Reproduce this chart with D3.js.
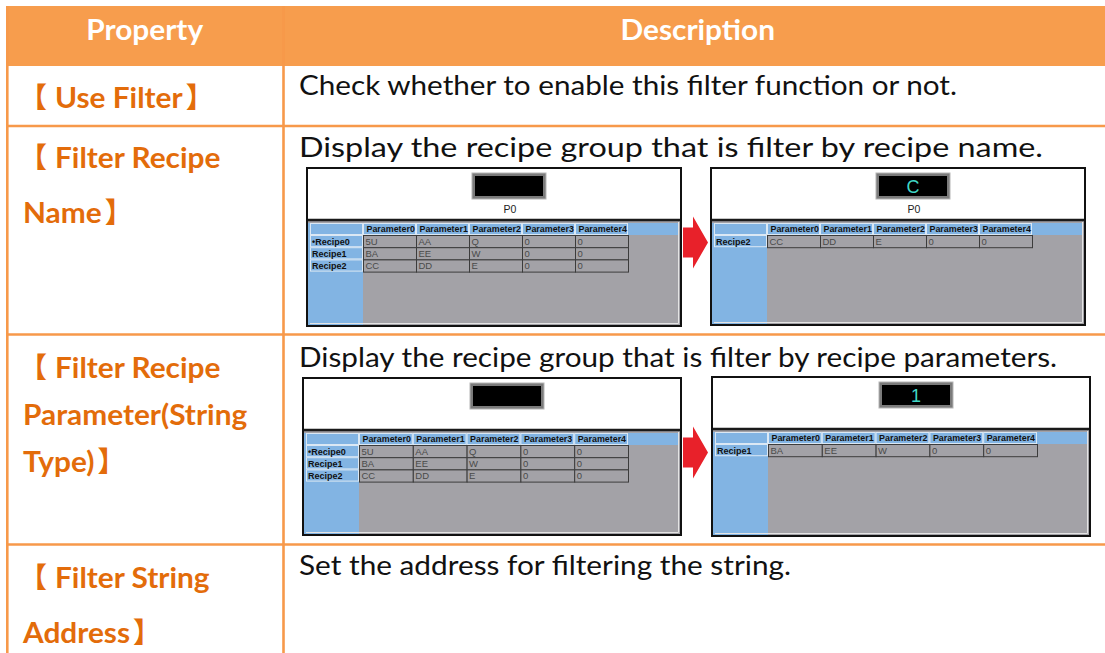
<!DOCTYPE html>
<html><head><meta charset="utf-8">
<script src="https://cdn.jsdelivr.net/npm/d3@7"></script>
<style>html,body{margin:0;padding:0;background:#fff;overflow:hidden}</style>
</head><body>
<svg id="c" width="1105" height="653"></svg>
<script>
// ---------- data ----------
const headers = ["Property", "Description"];
const propertyLines = [
  ["【Use Filter】"],
  ["【Filter Recipe", "Name】"],
  ["【Filter Recipe", "Parameter(String", "Type)】"],
  ["【Filter String", "Address】"]
];
const descriptions = [
  "Check whether to enable this filter function or not.",
  "Display the recipe group that is filter by recipe name.",
  "Display the recipe group that is filter by recipe parameters.",
  "Set the address for filtering the string."
];
const paramNames = ["Parameter0", "Parameter1", "Parameter2", "Parameter3", "Parameter4"];
const recipeNames = ["Recipe0", "Recipe1", "Recipe2"];
const recipe0Values = ["5U", "AA", "Q", "0", "0"];
const recipe1Values = ["BA", "EE", "W", "0", "0"];
const recipe2Values = ["CC", "DD", "E", "0", "0"];
const recipeValues = [recipe0Values, recipe1Values, recipe2Values];
// four screenshots: before/after name filter, before/after parameter filter
const shotRecipes = [[0, 1, 2], [2], [0, 1, 2], [1]];
const shotMarked = [0, -1, 0, -1];
const shotDisplay = ["", "C", "", "1"];
const shotLabel = ["P0", "P0", "", ""];

// ---------- layout ----------
const W = 1105, H = 653;
const ORANGE_FILL = "#F79D4D", ORANGE_LINE = "#F7994A", ORANGE_TEXT = "#E36C0A";
const LATIN_BOLD = "Lato, 'Noto Sans', sans-serif";
const CJK = "'Noto Sans CJK SC', 'Noto Sans CJK JP', sans-serif";
const WIDEN = 1.065;
const colEdges = [6, 283.5, 1112];
const rowEdges = [6, 66, 126, 334.5, 544.5, 760];
const descBaseline = [95, 157, 367, 575];
const descWidth = [658, 744, 758, 492];
const propFirstBaseline = [108, 168, 378, 588];
const propGap = [55, 55, 47, 55];
const shotLayout = [
  {x: 307, y: 168, w: 374, h: 158},
  {x: 711, y: 168, w: 374, h: 157},
  {x: 303, y: 378, w: 378, h: 157},
  {x: 712, y: 377, w: 378, h: 159}
];
const arrowLayout = [{x: 683, cy: 242.5}, {x: 683, cy: 452.5}];

const svg = d3.select("#c");
svg.append("rect").attr("width", W).attr("height", H).attr("fill", "#fff");

const xCol = d3.scaleOrdinal().domain(headers).range([colEdges[0], colEdges[1]]);
const colW = h => (h === headers[0] ? colEdges[1] - colEdges[0] : colEdges[2] - colEdges[1]);

function widen(sel) {
  sel.each(function () {
    const n = this.getComputedTextLength();
    d3.select(this).attr("textLength", n * WIDEN).attr("lengthAdjust", "spacingAndGlyphs");
  });
  return sel;
}

// header band
svg.append("rect").attr("x", colEdges[0]).attr("y", rowEdges[0])
  .attr("width", W - colEdges[0]).attr("height", rowEdges[1] - rowEdges[0]).attr("fill", ORANGE_FILL);
svg.selectAll("text.hdr").data(headers).join("text").attr("class", "hdr")
  .attr("x", d => xCol(d) + colW(d) / 2).attr("y", 40)
  .attr("text-anchor", "middle").attr("fill", "#fff")
  .attr("font-family", LATIN_BOLD).attr("font-weight", 700)
  .attr("font-size", 28).text(d => d).call(widen);

// grid lines
const lineG = svg.append("g").attr("stroke", ORANGE_LINE).attr("stroke-width", 2.6);
lineG.append("line").attr("x1", 7.3).attr("x2", 7.3).attr("y1", rowEdges[0]).attr("y2", H);
lineG.append("line").attr("x1", colEdges[1]).attr("x2", colEdges[1]).attr("y1", rowEdges[0]).attr("y2", H);
lineG.selectAll("line.h").data(rowEdges.slice(2, 5)).join("line").attr("class", "h")
  .attr("x1", colEdges[0]).attr("x2", W).attr("y1", d => d).attr("y2", d => d);

// property texts (CJK brackets + widened bold Latin)
const propG = svg.append("g").attr("fill", ORANGE_TEXT).attr("font-weight", 700);
propertyLines.forEach((lines, r) => {
  lines.forEach((line, i) => {
    const y = propFirstBaseline[r] + i * propGap[r];
    let s = line, x = 23;
    const open = s.startsWith("【"), close = s.endsWith("】");
    if (open) { s = s.slice(1); }
    if (close) { s = s.slice(0, -1); }
    if (open) {
      propG.append("text").attr("x", 19).attr("y", y).attr("font-family", CJK)
        .attr("font-size", 28).text("【");
      x = 55;
    }
    const t = propG.append("text").attr("x", x).attr("y", y).attr("font-family", LATIN_BOLD)
      .attr("font-size", 28).text(s);
    widen(t);
    const realEnd = x + (+t.attr("textLength"));
    if (close) {
      propG.append("text").attr("x", realEnd + 3).attr("y", y).attr("font-family", CJK)
        .attr("font-size", 28).text("】");
    }
  });
});

// descriptions
svg.selectAll("text.desc").data(descriptions).join("text").attr("class", "desc")
  .attr("x", 299).attr("y", (d, i) => descBaseline[i])
  .attr("fill", "#111").attr("font-family", "Lato, 'Noto Sans', sans-serif")
  .attr("font-size", 26).attr("textLength", (d, i) => descWidth[i])
  .attr("lengthAdjust", "spacingAndGlyphs").text(d => d);

// screenshots
const GRAY = "#A3A2A7", BLUE = "#82B4E3";
function drawShot(k) {
  const L = shotLayout[k];
  const w = L.w, h = L.h;
  const g = svg.append("g").attr("transform", `translate(${L.x},${L.y})`)
    .attr("font-family", "'Liberation Sans', Arial, sans-serif");
  const cw = (w - 109) / 5;
  g.append("rect").attr("width", w).attr("height", h).attr("fill", "#fff");
  g.append("rect").attr("x", 0).attr("y", 52).attr("width", w).attr("height", h - 52).attr("fill", GRAY);
  g.append("rect").attr("x", 0).attr("y", 55).attr("width", 56).attr("height", h - 55).attr("fill", BLUE);
  g.append("rect").attr("x", 0).attr("y", 55).attr("width", w - 3).attr("height", 12).attr("fill", BLUE);
  g.append("path").attr("d", `M3,${h - 2.5} H${w - 2.5} V54`).attr("fill", "none")
    .attr("stroke", "#e4e4e4").attr("stroke-width", 1);
  // display box
  const bx = 165 + (w - 374) / 2;
  g.append("rect").attr("x", bx).attr("y", 5).attr("width", 74).attr("height", 26)
    .attr("fill", "#7b7b7b").attr("stroke", "#b5b5b5").attr("stroke-width", 1);
  g.append("rect").attr("x", bx + 3).attr("y", 8).attr("width", 68).attr("height", 20).attr("fill", "#000");
  g.append("text").attr("x", bx + 37).attr("y", 25).attr("text-anchor", "middle")
    .attr("fill", "#40D8C6").attr("font-size", 18).text(shotDisplay[k]);
  g.append("text").attr("x", bx + 38).attr("y", 45).attr("text-anchor", "middle")
    .attr("fill", "#222").attr("font-size", 10.5).text(shotLabel[k]);

  const xs = d3.scaleBand().domain(paramNames).range([56, 56 + 5 * cw]);
  const rows = shotRecipes[k];
  const ys = d3.scaleBand().domain(rows).range([67, 67 + 12.2 * rows.length]);

  g.selectAll("rect.ph").data(paramNames).join("rect").attr("class", "ph")
    .attr("x", d => xs(d) + 0.5).attr("y", 55.5).attr("width", xs.bandwidth() - 1).attr("height", 11)
    .attr("fill", BLUE).attr("stroke", "#dbe8f4").attr("stroke-width", 1);
  g.append("rect").attr("x", 3.5).attr("y", 55.5).attr("width", 52).attr("height", 11)
    .attr("fill", BLUE).attr("stroke", "#dbe8f4").attr("stroke-width", 1);
  g.selectAll("text.ph").data(paramNames).join("text").attr("class", "ph")
    .attr("x", d => xs(d) + 3.5).attr("y", 64.3).attr("font-size", 8.9).attr("font-weight", 700)
    .attr("fill", "#111").text(d => d);

  g.selectAll("rect.rl").data(rows).join("rect").attr("class", "rl")
    .attr("x", 3.5).attr("y", d => ys(d) + 0.5).attr("width", 52).attr("height", ys.bandwidth() - 1)
    .attr("fill", BLUE).attr("stroke", "#dbe8f4").attr("stroke-width", 1);
  g.selectAll("text.rl").data(rows).join("text").attr("class", "rl")
    .attr("x", 5).attr("y", d => ys(d) + 9.6).attr("font-size", 9).attr("font-weight", 700)
    .attr("fill", "#111").text(d => (d === shotMarked[k] ? "•" : "") + recipeNames[d]);

  const cells = [];
  rows.forEach(r => paramNames.forEach((p, j) => cells.push({r, p, v: recipeValues[r][j]})));
  g.selectAll("rect.dc").data(cells).join("rect").attr("class", "dc")
    .attr("x", d => xs(d.p) + 0.5).attr("y", d => ys(d.r) + 0.5)
    .attr("width", xs.bandwidth()).attr("height", ys.bandwidth())
    .attr("fill", GRAY).attr("stroke", "#3c3c3c").attr("stroke-width", 1);
  g.selectAll("text.dc").data(cells).join("text").attr("class", "dc")
    .attr("x", d => xs(d.p) + 2.5).attr("y", d => ys(d.r) + 10)
    .attr("font-size", 9.5).attr("fill", "#4a4a4a").text(d => d.v);

  g.append("line").attr("x1", 0).attr("x2", w).attr("y1", 52).attr("y2", 52)
    .attr("stroke", "#1a1a1a").attr("stroke-width", 2.5);
  g.append("rect").attr("x", 0).attr("y", 0).attr("width", w).attr("height", h)
    .attr("fill", "none").attr("stroke", "#111").attr("stroke-width", 2);
}
shotLayout.forEach((L, k) => drawShot(k));

// red arrows
svg.selectAll("path.arrow").data(arrowLayout).join("path").attr("class", "arrow")
  .attr("d", a => d3.line()([[a.x, a.cy - 15], [a.x + 10, a.cy - 15], [a.x + 10, a.cy - 26],
    [a.x + 25, a.cy], [a.x + 10, a.cy + 26], [a.x + 10, a.cy + 15], [a.x, a.cy + 15]]) + "Z")
  .attr("fill", "#E8212A");
</script>
</body></html>
